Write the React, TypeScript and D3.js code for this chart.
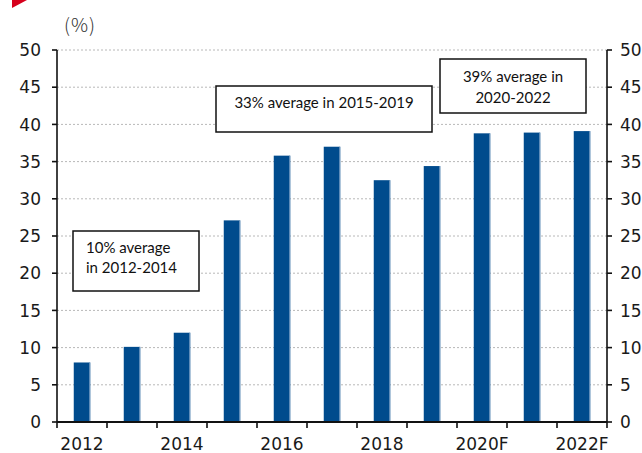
import React from "react";
import * as d3 from "d3";

const categories = ["2012", "2013", "2014", "2015", "2016", "2017", "2018", "2019", "2020F", "2021F", "2022F"];
const values = [8.0, 10.1, 12.0, 27.1, 35.8, 37.0, 32.5, 34.4, 38.8, 38.9, 39.1];
const xTickLabels = ["2012", "2014", "2016", "2018", "2020F", "2022F"];
const yTicks = [0, 5, 10, 15, 20, 25, 30, 35, 40, 45, 50];
const annotations = [
  { lines: ["10% average", "in 2012-2014"], align: "start" },
  { lines: ["33% average in 2015-2019"], align: "middle" },
  { lines: ["39% average in", "2020-2022"], align: "middle" },
];

const W = 642;
const H = 453;
const left = 57;
const right = 607;
const top = 50;
const bottom = 422;

const boxes = [
  { x: 73, y: 231, w: 126, h: 60, tx: 86, ty: [253, 273] },
  { x: 216, y: 86, w: 216, h: 46, tx: 324, ty: [108] },
  { x: 440, y: 59, w: 146, h: 54, tx: 513, ty: [82, 103] },
];

export default function App() {
  const x = d3.scaleBand<string>().domain(categories).range([left, right]).padding(0);
  const y = d3.scaleLinear().domain([0, 50]).range([bottom, top]);
  const bw = x.bandwidth();
  const barW = bw * 0.33;
  const axisFont = "'DejaVu Sans', sans-serif";
  const noteFont = "Lato, 'Open Sans', sans-serif";

  return (
    <svg width={W} height={H} style={{ position: "absolute", left: 0, top: 0 }}>
      <rect x={0} y={0} width={W} height={H} fill="#fff" />
      <polygon points="12,0 27,0 12,8" fill="#d6001c" />
      <text x={64} y={32} fontFamily="'Noto Sans CJK JP', sans-serif" fontWeight={300} fontSize={19} fill="#333" letterSpacing={1}>
        (%)
      </text>

      {/* gridlines */}
      {yTicks.map((t) =>
        t === 0 ? null : (
          <line key={"g" + t} x1={left} x2={right} y1={y(t)} y2={y(t)} stroke="#b8b8b8" strokeWidth={1} strokeDasharray="2,2" />
        )
      )}

      {/* bars */}
      {categories.map((c, i) => (
        <g key={c}>
          <rect x={(x(c) as number) + (bw - barW) / 2} y={y(values[i])} width={barW} height={bottom - y(values[i])} fill="#004b8d" />
          <rect x={(x(c) as number) + (bw + barW) / 2 - 1} y={y(values[i])} width={1} height={bottom - y(values[i])} fill="#7fa3c8" />
        </g>
      ))}

      {/* left axis */}
      <line x1={left} x2={left} y1={top} y2={bottom} stroke="#111" strokeWidth={1.6} />
      {yTicks.map((t) => (
        <g key={"l" + t}>
          <line x1={left - 5} x2={left} y1={y(t)} y2={y(t)} stroke="#111" strokeWidth={1.6} />
          <text x={41} y={y(t)} dy="0.36em" textAnchor="end" fontFamily={axisFont} fontSize={17} fill="#1a1a1a">
            {t}
          </text>
        </g>
      ))}

      {/* right axis */}
      <line x1={right} x2={right} y1={top} y2={bottom} stroke="#111" strokeWidth={1.6} />
      {yTicks.map((t) => (
        <g key={"r" + t}>
          <line x1={right} x2={right + 5} y1={y(t)} y2={y(t)} stroke="#111" strokeWidth={1.6} />
          <text x={620} y={y(t)} dy="0.36em" textAnchor="start" fontFamily={axisFont} fontSize={17} fill="#1a1a1a">
            {t}
          </text>
        </g>
      ))}

      {/* bottom axis */}
      <line x1={left} x2={right} y1={bottom} y2={bottom} stroke="#111" strokeWidth={1.8} />
      {d3.range(categories.length + 1).map((i) => (
        <line key={"bt" + i} x1={left + i * bw} x2={left + i * bw} y1={bottom} y2={bottom + 6} stroke="#111" strokeWidth={1.6} />
      ))}
      {categories.map((c) =>
        xTickLabels.includes(c) ? (
          <text key={"bl" + c} x={(x(c) as number) + bw / 2} y={450} textAnchor="middle" fontFamily={axisFont} fontSize={17} fill="#1a1a1a">
            {c}
          </text>
        ) : null
      )}

      {/* annotation boxes */}
      {annotations.map((a, i) => {
        const b = boxes[i];
        return (
          <g key={"a" + i}>
            <rect x={b.x} y={b.y} width={b.w} height={b.h} fill="#fff" stroke="#111" strokeWidth={1.5} />
            {a.lines.map((ln, j) => (
              <text key={j} x={b.tx} y={b.ty[j]} textAnchor={a.align as any} fontFamily={noteFont} fontSize={15} fill="#111">
                {ln}
              </text>
            ))}
          </g>
        );
      })}
    </svg>
  );
}
